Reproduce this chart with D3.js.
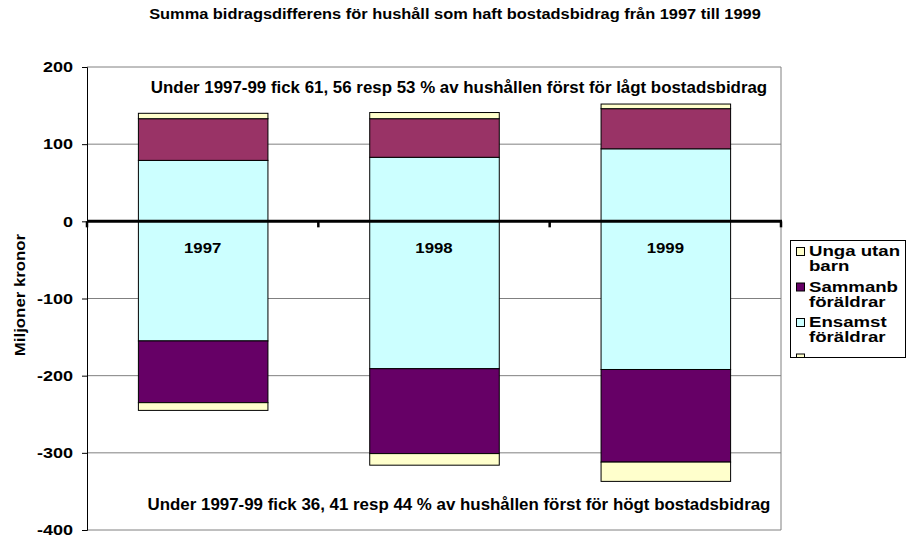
<!DOCTYPE html>
<html>
<head>
<meta charset="utf-8">
<script src="https://cdn.jsdelivr.net/npm/d3@7"></script>
<style>
  body { margin: 0; background: #fff; }
  text { font-family: Arial, "Liberation Sans", sans-serif; font-weight: bold; fill: #000; }
</style>
</head>
<body>
<div id="chart"></div>
<script>
// Data (miljoner kronor)
const years = ['1997', '1998', '1999'];
const ensamstPos = [79, 83, 94];
const sammanbPos = [54, 50, 52];
const ungaPos = [7, 8, 6];
const ensamstNeg = [-155, -191, -192];
const sammanbNeg = [-80, -110, -120];
const ungaNeg = [-10, -15, -25];
const yTicks = [200, 100, 0, -100, -200, -300, -400];
const legendItems = [
    { lines: ['Unga utan', 'barn'], color: '#FFFFCC' },
    { lines: ['Sammanb', 'föräldrar'], color: '#660066' },
    { lines: ['Ensamst', 'föräldrar'], color: '#CCFFFF' },
    { lines: ['', ''], color: '#FFFFCC' }
];

const W = 908, H = 537;
const plot = { left: 87, right: 781, top: 67, bottom: 530 };

// the original text is drawn a bit wider than the font's own width
function stretch(sel, factor) {
    sel.each(function() {
        const len = this.getComputedTextLength();
        if (len > 0) {
            d3.select(this)
                .attr('textLength', len * factor)
                .attr('lengthAdjust', 'spacingAndGlyphs');
        }
    });
}

const svg = d3.select('#chart')
    .append('svg')
    .attr('width', W)
    .attr('height', H);

const x = d3.scaleBand()
    .domain(years)
    .range([plot.left, plot.right])
    .paddingInner(0.44)
    .paddingOuter(0.22);

const y = d3.scaleLinear()
    .domain([-400, 200])
    .range([plot.bottom, plot.top]);

// Gridlines
svg.append('g')
    .selectAll('line')
    .data(yTicks.filter(d => d !== 0))
    .enter()
    .append('line')
    .attr('x1', plot.left)
    .attr('x2', plot.right)
    .attr('y1', d => y(d))
    .attr('y2', d => y(d))
    .attr('stroke', '#808080')
    .attr('stroke-width', 1);

// Right border
svg.append('line')
    .attr('x1', plot.right).attr('x2', plot.right)
    .attr('y1', plot.top).attr('y2', plot.bottom)
    .attr('stroke', '#808080');

// Stacked segments: positive stack and negative stack
const segments = [];
years.forEach((yr, i) => {
    let top = 0;
    [[ensamstPos, '#CCFFFF'], [sammanbPos, '#993366'], [ungaPos, '#FFFFCC']].forEach(([arr, c]) => {
        segments.push({ yr, y0: top, y1: top + arr[i], color: c });
        top += arr[i];
    });
    let bot = 0;
    [[ensamstNeg, '#CCFFFF'], [sammanbNeg, '#660066'], [ungaNeg, '#FFFFCC']].forEach(([arr, c]) => {
        segments.push({ yr, y0: bot, y1: bot + arr[i], color: c });
        bot += arr[i];
    });
});

svg.append('g')
    .selectAll('rect')
    .data(segments)
    .enter()
    .append('rect')
    .attr('x', d => x(d.yr) + 0.5)
    .attr('width', x.bandwidth())
    .attr('y', d => y(Math.max(d.y0, d.y1)))
    .attr('height', d => Math.abs(y(d.y0) - y(d.y1)))
    .attr('fill', d => d.color)
    .attr('stroke', '#000')
    .attr('stroke-width', 1);

// Y axis
const yAxis = svg.append('g')
    .attr('transform', `translate(${plot.left},0)`)
    .call(d3.axisLeft(y).tickValues(yTicks).tickSize(5).tickPadding(9).tickFormat(d => String(d)));
yAxis.select('.domain').attr('stroke', '#000');
yAxis.selectAll('.tick line').attr('stroke', '#000');
yAxis.selectAll('.tick text')
    .style('font-family', 'Arial, "Liberation Sans", sans-serif')
    .style('font-weight', 'bold')
    .style('font-size', '15px')
    .call(stretch, 1.2);

// Zero line with category ticks
const step = x.step();
const boundaries = [0, 1, 2, 3].map(k => plot.left + k * step);
svg.append('g')
    .selectAll('line')
    .data(boundaries)
    .enter()
    .append('line')
    .attr('x1', d => d)
    .attr('x2', d => d)
    .attr('y1', y(0))
    .attr('y2', y(0) + 6)
    .attr('stroke', '#000')
    .attr('stroke-width', 2.5);

svg.append('line')
    .attr('x1', plot.left)
    .attr('x2', plot.right + 1)
    .attr('y1', y(0))
    .attr('y2', y(0))
    .attr('stroke', '#000')
    .attr('stroke-width', 3);

// Year labels
svg.append('g')
    .selectAll('text')
    .data(years)
    .enter()
    .append('text')
    .attr('x', d => x(d) + x.bandwidth() / 2)
    .attr('y', y(0) + 32)
    .attr('text-anchor', 'middle')
    .style('font-size', '15px')
    .text(d => d)
    .call(stretch, 1.12);

// Y axis title
svg.append('text')
    .attr('transform', 'rotate(-90)')
    .attr('x', -295)
    .attr('y', 25)
    .attr('text-anchor', 'middle')
    .style('font-size', '14px')
    .text('Miljoner kronor')
    .call(stretch, 1.2);

// Title
svg.append('text')
    .attr('x', 455)
    .attr('y', 19)
    .attr('text-anchor', 'middle')
    .style('font-size', '14px')
    .text('Summa bidragsdifferens för hushåll som haft bostadsbidrag från 1997 till 1999')
    .call(stretch, 1.17);

// Annotations
svg.append('text')
    .attr('x', 459)
    .attr('y', 93)
    .attr('text-anchor', 'middle')
    .style('font-size', '16px')
    .text('Under 1997-99 fick 61, 56 resp 53 % av hushållen först för lågt bostadsbidrag')
    .call(stretch, 1.055);

svg.append('text')
    .attr('x', 459)
    .attr('y', 510)
    .attr('text-anchor', 'middle')
    .style('font-size', '16px')
    .text('Under 1997-99 fick 36, 41 resp 44 % av hushållen först för högt bostadsbidrag')
    .call(stretch, 1.055);

// Legend (box clips the last entry)
const lg = { x: 790, y: 240, w: 115, h: 117 };
svg.append('clipPath')
    .attr('id', 'legclip')
    .append('rect')
    .attr('x', lg.x).attr('y', lg.y).attr('width', lg.w).attr('height', lg.h);

const legend = svg.append('g');
legend.append('rect')
    .attr('x', lg.x).attr('y', lg.y).attr('width', lg.w).attr('height', lg.h)
    .attr('fill', '#fff');

const entries = legend.append('g').attr('clip-path', 'url(#legclip)')
    .selectAll('g')
    .data(legendItems)
    .enter()
    .append('g')
    .attr('transform', (d, i) => `translate(${lg.x + 6},${lg.y + 11 + i * 35.5})`);

entries.append('rect')
    .attr('x', 0.5).attr('y', -3.5)
    .attr('width', 8).attr('height', 8)
    .attr('fill', d => d.color)
    .attr('stroke', '#000');

entries.each(function(d) {
    d3.select(this).selectAll('text')
        .data(d.lines)
        .enter()
        .append('text')
        .attr('x', 13)
        .attr('y', (l, j) => 5 + j * 15)
        .style('font-size', '14px')
        .text(l => l)
        .call(stretch, 1.33);
});

legend.append('rect')
    .attr('x', lg.x + 0.5).attr('y', lg.y + 0.5).attr('width', lg.w).attr('height', lg.h)
    .attr('fill', 'none')
    .attr('stroke', '#000');
</script>
</body>
</html>
